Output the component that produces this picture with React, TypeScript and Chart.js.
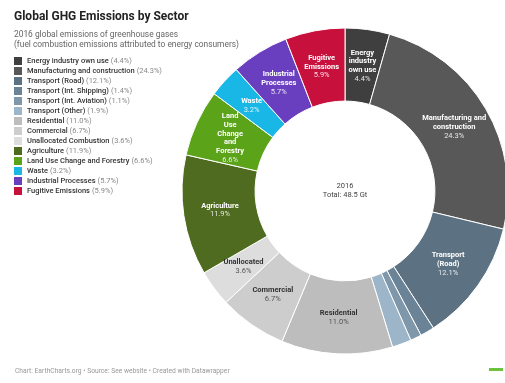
import React, { useEffect, useRef } from "react";
import { Chart, registerables } from "chart.js";

Chart.register(...registerables);

const categories = [
  "Energy industry own use",
  "Manufacturing and construction",
  "Transport (Road)",
  "Transport (Int. Shipping)",
  "Transport (Int. Aviation)",
  "Transport (Other)",
  "Residential",
  "Commercial",
  "Unallocated Combustion",
  "Agriculture",
  "Land Use Change and Forestry",
  "Waste",
  "Industrial Processes",
  "Fugitive Emissions",
];

const shares = [4.4, 24.3, 12.1, 1.4, 1.1, 1.9, 11.0, 6.7, 3.6, 11.9, 6.6, 3.2, 5.7, 5.9];

const colors = [
  "#3f3f3f",
  "#585858",
  "#5c7282",
  "#6b8396",
  "#7e97aa",
  "#9cb5c8",
  "#bdbdbd",
  "#cdcdcd",
  "#dddddd",
  "#4f6b20",
  "#5ba41a",
  "#19b7e5",
  "#6a3fbf",
  "#c8103c",
];

const sliceLabels = [
  ["Energy", "industry", "own use"],
  ["Manufacturing and", "construction"],
  ["Transport", "(Road)"],
  [],
  [],
  [],
  ["Residential"],
  ["Commercial"],
  ["Unallocated"],
  ["Agriculture"],
  ["Land", "Use", "Change", "and", "Forestry"],
  ["Waste"],
  ["Industrial", "Processes"],
  ["Fugitive", "Emissions"],
];

const darkText = [false, false, false, false, false, false, true, true, true, false, false, false, false, false];

const centerLines = ["2016", "Total: 48.5 Gt"];

const FONT = "Roboto, 'Noto Sans', sans-serif";

const sliceLabelPlugin = {
  id: "sliceLabels",
  afterDatasetsDraw(chart: any) {
    const ctx = chart.ctx;
    const meta = chart.getDatasetMeta(0);
    ctx.save();
    ctx.textAlign = "center";
    ctx.textBaseline = "middle";
    meta.data.forEach((arc: any, i: number) => {
      const lines = sliceLabels[i];
      if (!lines || lines.length === 0) return;
      const p = arc.tooltipPosition();
      const all = [...lines, shares[i].toFixed(1) + "%"];
      const lh = 8.7;
      const startY = p.y - ((all.length - 1) * lh) / 2;
      all.forEach((t: string, j: number) => {
        const isPct = j === all.length - 1;
        ctx.font = (isPct ? "400 " : "700 ") + "7.5px " + FONT;
        if (darkText[i]) ctx.fillStyle = isPct ? "#555555" : "#333333";
        else ctx.fillStyle = isPct ? "rgba(255,255,255,0.85)" : "#ffffff";
        ctx.fillText(t, p.x, startY + j * lh);
      });
    });
    const a = meta.data[0];
    if (a) {
      ctx.font = "400 7.5px " + FONT;
      ctx.fillStyle = "#444444";
      ctx.fillText(centerLines[0], a.x, a.y - 5);
      ctx.fillText(centerLines[1], a.x, a.y + 4.5);
    }
    ctx.restore();
  },
};

export default function App() {
  const canvasRef = useRef<HTMLCanvasElement | null>(null);

  useEffect(() => {
    if (!canvasRef.current) return;
    const chart = new Chart(canvasRef.current, {
      type: "doughnut",
      data: {
        labels: categories,
        datasets: [
          {
            data: shares,
            backgroundColor: colors,
            borderColor: "#ffffff",
            borderWidth: 1,
            hoverOffset: 0,
          },
        ],
      },
      options: {
        animation: false,
        responsive: false,
        maintainAspectRatio: false,
        radius: 163,
        cutout: 88,
        rotation: 0,
        layout: { padding: { left: 185, right: 0, top: 0, bottom: 1 } },
        plugins: {
          legend: { display: false },
          tooltip: { enabled: false },
          title: { display: false },
        },
        events: [],
      },
      plugins: [sliceLabelPlugin],
    });
    return () => chart.destroy();
  }, []);

  return (
    <div
      style={{
        position: "fixed",
        left: 0,
        top: 0,
        width: 505,
        height: 383,
        overflow: "hidden",
        background: "#ffffff",
        fontFamily: FONT,
      }}
    >
      <canvas
        ref={canvasRef}
        width={505}
        height={383}
        style={{ position: "absolute", left: 0, top: 0, width: 505, height: 383 }}
      />
      <div
        style={{
          position: "absolute",
          left: 14,
          top: 9,
          fontSize: 12,
          lineHeight: "14px",
          fontWeight: 700,
          color: "#222222",
          whiteSpace: "nowrap",
        }}
      >
        Global GHG Emissions by Sector
      </div>
      <div
        style={{
          position: "absolute",
          left: 14,
          top: 30,
          fontSize: 8.4,
          lineHeight: "9.5px",
          color: "#666666",
          whiteSpace: "nowrap",
        }}
      >
        2016 global emissions of greenhouse gases
        <br />
        (fuel combustion emissions attributed to energy consumers)
      </div>
      {categories.map((c, i) => (
        <div
          key={c}
          style={{
            position: "absolute",
            left: 14,
            top: 56 + i * 10,
            height: 10,
            display: "flex",
            alignItems: "center",
            whiteSpace: "nowrap",
            fontSize: 7.5,
            lineHeight: "10px",
          }}
        >
          <span
            style={{
              display: "inline-block",
              width: 8,
              height: 8,
              background: colors[i],
              marginRight: 5,
            }}
          />
          <span style={{ color: "#333333", fontWeight: 500 }}>{c}</span>
          <span style={{ color: "#888888", marginLeft: 2 }}>({shares[i].toFixed(1)}%)</span>
        </div>
      ))}
      <div
        style={{
          position: "absolute",
          left: 15,
          top: 366,
          fontSize: 6.7,
          lineHeight: "10px",
          color: "#999999",
          whiteSpace: "nowrap",
        }}
      >
        Chart: EarthCharts.org • Source: See website • Created with Datawrapper
      </div>
      <div
        style={{
          position: "absolute",
          left: 489,
          top: 368,
          width: 14,
          height: 3,
          background: "#6cc23e",
        }}
      />
    </div>
  );
}
